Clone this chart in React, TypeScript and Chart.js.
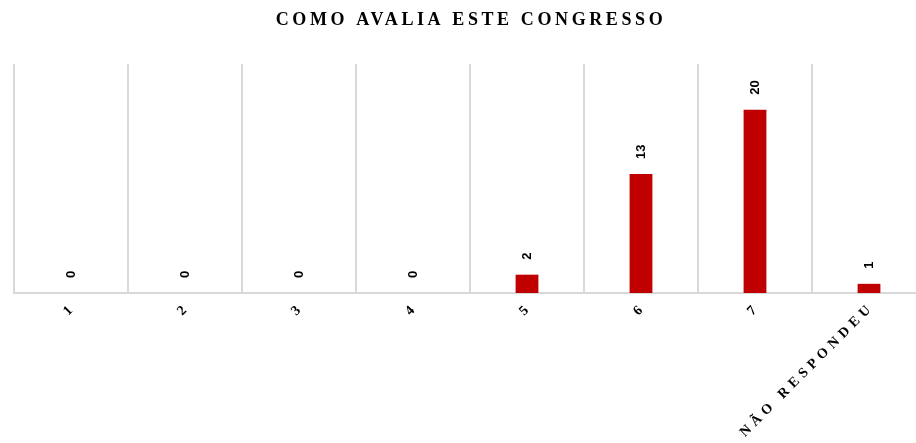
import React, { useEffect, useRef } from "react";
import { Chart, registerables } from "chart.js";

Chart.register(...registerables);

const categories: string[] = ["1", "2", "3", "4", "5", "6", "7", "NÃO RESPONDEU"];
const values: number[] = [0, 0, 0, 0, 2, 13, 20, 1];
const yMax = 25;
const chartTitle = "COMO AVALIA ESTE CONGRESSO";

const customText = {
  id: "customText",
  afterDatasetsDraw(chart: any) {
    const ctx = chart.ctx as CanvasRenderingContext2D;
    const meta = chart.getDatasetMeta(0);
    const xScale = chart.scales.x;
    // data labels
    ctx.save();
    ctx.fillStyle = "#000";
    ctx.font = "bold 13px 'Liberation Sans', Arial, sans-serif";
    meta.data.forEach((bar: any, i: number) => {
      ctx.save();
      ctx.translate(bar.x, bar.y - 15);
      ctx.rotate(-Math.PI / 2);
      ctx.textAlign = "left";
      ctx.textBaseline = "middle";
      ctx.fillText(String(values[i]), 0, 0);
      ctx.restore();
    });
    ctx.restore();
    // x labels
    ctx.save();
    ctx.fillStyle = "#000";
    ctx.font = "bold 14px 'Liberation Serif', 'Times New Roman', serif";
    (ctx as any).letterSpacing = "4.8px";
    categories.forEach((c, i) => {
      const x = xScale.getPixelForValue(i);
      ctx.save();
      ctx.translate(x + 3, chart.chartArea.bottom + 12);
      ctx.rotate(-Math.PI / 4);
      ctx.textAlign = "right";
      ctx.textBaseline = "middle";
      ctx.fillText(c, 0, 0);
      ctx.restore();
    });
    ctx.restore();
    // title
    ctx.save();
    ctx.fillStyle = "#000";
    ctx.font = "bold 18px 'Liberation Serif', 'Times New Roman', serif";
    (ctx as any).letterSpacing = "3.6px";
    ctx.textAlign = "center";
    ctx.textBaseline = "middle";
    ctx.fillText(chartTitle, 471, 20);
    ctx.restore();
  },
};

export default function App() {
  const ref = useRef<HTMLCanvasElement | null>(null);
  useEffect(() => {
    if (!ref.current) return;
    const chart = new Chart(ref.current, {
      type: "bar",
      data: {
        labels: categories,
        datasets: [
          {
            data: values,
            backgroundColor: "#C00000",
            barPercentage: 0.2,
            categoryPercentage: 1,
          },
        ],
      },
      options: {
        animation: false,
        responsive: false,
        layout: { padding: { left: 14, right: 4, top: 64, bottom: 150 } },
        plugins: { legend: { display: false }, tooltip: { enabled: false }, title: { display: false } },
        scales: {
          x: {
            grid: { offset: true, color: "#d9d9d9", lineWidth: 2, drawTicks: false },
            border: { display: true, color: "#d9d9d9", width: 2 },
            ticks: { display: false },
          },
          y: { display: false, min: 0, max: yMax },
        },
      },
      plugins: [customText],
    });
    return () => chart.destroy();
  }, []);
  return (
    <div style={{ position: "fixed", left: 0, top: 0, width: 916, height: 443, overflow: "hidden", background: "#fff" }}>
      <canvas ref={ref} width={930} height={443} style={{ display: "block" }} />
    </div>
  );
}
